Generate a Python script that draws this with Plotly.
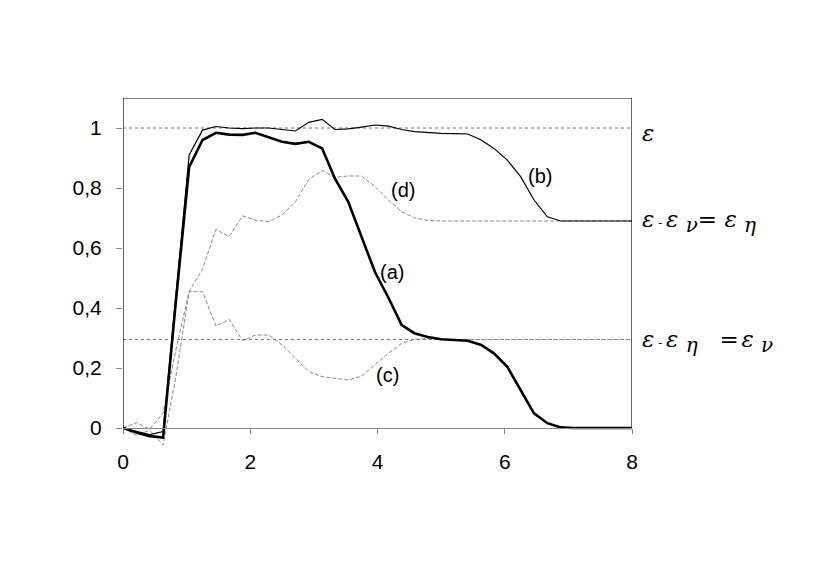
import plotly.graph_objects as go

# sampling positions along x
X = [0, 0.21, 0.42, 0.63, 0.83, 1.04, 1.25, 1.46, 1.67, 1.88, 2.08, 2.29, 2.5,
     2.71, 2.92, 3.13, 3.33, 3.54, 3.75, 3.96, 4.17, 4.38, 4.58, 4.79, 5.0,
     5.21, 5.42, 5.63, 5.83, 6.04, 6.25, 6.46, 6.67, 6.88, 7.08, 7.29, 7.5,
     7.71, 7.92, 8.0]

CURVE_A = [0, -0.015, -0.027, -0.032, 0.42, 0.87, 0.96, 0.984, 0.978, 0.977,
           0.984, 0.968, 0.954, 0.947, 0.954, 0.932, 0.832, 0.754, 0.638,
           0.52, 0.435, 0.343, 0.316, 0.303, 0.296, 0.294, 0.291, 0.277,
           0.249, 0.204, 0.127, 0.049, 0.016, 0.002, 0, 0, 0, 0, 0, 0]

CURVE_B = [0, -0.01, -0.022, -0.012, 0.45, 0.91, 0.993, 1.005, 1.0, 0.998,
           1.0, 1.0, 0.995, 0.99, 1.019, 1.029, 0.995, 0.997, 1.003, 1.01,
           1.006, 0.995, 0.988, 0.984, 0.982, 0.981, 0.98, 0.96, 0.932,
           0.893, 0.838, 0.76, 0.704, 0.69, 0.69, 0.69, 0.69, 0.69, 0.69, 0.69]

CURVE_C = [0, -0.025, -0.007, -0.057, 0.17, 0.455, 0.454, 0.34, 0.362, 0.291,
           0.31, 0.31, 0.277, 0.232, 0.188, 0.171, 0.165, 0.16, 0.173, 0.21,
           0.249, 0.282, 0.296, 0.298, 0.295, 0.295, 0.295, 0.295, 0.295,
           0.295, 0.295, 0.295, 0.295, 0.295, 0.295, 0.295, 0.295, 0.295,
           0.295, 0.295]

CURVE_D = [0, 0.018, -0.004, 0.05, 0.26, 0.455, 0.53, 0.662, 0.638, 0.707,
           0.693, 0.688, 0.71, 0.754, 0.829, 0.858, 0.836, 0.84, 0.84, 0.805,
           0.76, 0.721, 0.701, 0.692, 0.69, 0.69, 0.69, 0.69, 0.69, 0.69,
           0.69, 0.69, 0.69, 0.69, 0.69, 0.69, 0.69, 0.69, 0.69, 0.69]

REF_LEVELS = [1.0, 0.295]

Y_TICKS = [0, 0.2, 0.4, 0.6, 0.8, 1.0]
Y_TICK_TEXT = ["0", "0,2", "0,4", "0,6", "0,8", "1"]
X_TICKS = [0, 2, 4, 6, 8]

CURVE_LABELS = [("(a)", 4.23, 0.52), ("(b)", 6.56, 0.84),
                ("(c)", 4.15, 0.177), ("(d)", 4.4, 0.793)]


def sub(s):
    return "<sub><span style='font-size:20px'><i>" + s + "</i></span></sub>"


EPS = "<i>ε</i>"
SP = "&nbsp;"
SMALL_MINUS = "<span style='font-size:12px'>" + SP + "-" + SP + "</span>"
THIN = "<span style='font-size:8px'>" + SP + "</span>"
RIGHT_LABELS = [
    (EPS, 0.985),
    (EPS + SMALL_MINUS + EPS + SP + sub("ν") + "=" + SP + EPS + SP + sub("η"), 0.69),
    (EPS + SMALL_MINUS + EPS + SP + sub("η") + SP + SP + SP + "=" + THIN + EPS
     + SP + sub("ν"), 0.29),
]

Y_MIN, Y_MAX = -0.07, 1.1

fig = go.Figure()

dash_style = dict(color="#8a8a8a", width=1, dash="4px,2px")
fig.add_trace(go.Scatter(x=X, y=CURVE_D, mode="lines", line=dash_style))
fig.add_trace(go.Scatter(x=X, y=CURVE_C, mode="lines", line=dash_style))
fig.add_trace(go.Scatter(x=X, y=CURVE_B, mode="lines", line=dict(color="black", width=1.2)))
fig.add_trace(go.Scatter(x=X, y=CURVE_A, mode="lines", line=dict(color="black", width=2.6)))

# reference levels
for lvl in REF_LEVELS:
    fig.add_shape(type="line", x0=0, x1=8, y0=lvl, y1=lvl, xref="x", yref="y",
                  line=dict(color="#777777", width=1, dash="dot"), layer="below")

# frame: top, left, right in black, x axis line grey
fig.add_shape(type="line", x0=0, x1=8, y0=Y_MAX, y1=Y_MAX, line=dict(color="black", width=1))
fig.add_shape(type="line", x0=0, x1=0, y0=0, y1=Y_MAX, line=dict(color="black", width=1.2))
fig.add_shape(type="line", x0=8, x1=8, y0=0, y1=Y_MAX, line=dict(color="black", width=1.2))

for txt, xv, yv in CURVE_LABELS:
    fig.add_annotation(x=xv, y=yv, text=txt, showarrow=False,
                       font=dict(size=20, color="black"))

for txt, yv in RIGHT_LABELS:
    fig.add_annotation(x=8, y=yv, xref="x", yref="y", text=txt, showarrow=False,
                       xanchor="left", xshift=8,
                       font=dict(size=23, color="black", family="DejaVu Serif"))

# page body adds an 8px offset, so the figure is sized to fit inside it
fig.update_layout(
    width=822, height=579,
    margin=dict(l=115, r=198, t=90, b=138),
    plot_bgcolor="white", paper_bgcolor="white",
    showlegend=False,
    font=dict(family="Liberation Sans, Arial, sans-serif", size=21, color="black"),
    xaxis=dict(range=[0, 8], tickvals=X_TICKS, showgrid=False, zeroline=False,
               anchor="free", position=(0 - Y_MIN) / (Y_MAX - Y_MIN),
               showline=True, linecolor="#888888", linewidth=1,
               ticks="outside", ticklen=5, tickcolor="#888888",
               ticklabelstandoff=10, automargin=False),
    yaxis=dict(range=[Y_MIN, Y_MAX], tickvals=Y_TICKS, ticktext=Y_TICK_TEXT,
               showgrid=False, zeroline=False, showline=False,
               ticks="outside", ticklen=6, tickcolor="#888888",
               ticklabelstandoff=10, automargin=False),
)

fig.write_html("out.html")
